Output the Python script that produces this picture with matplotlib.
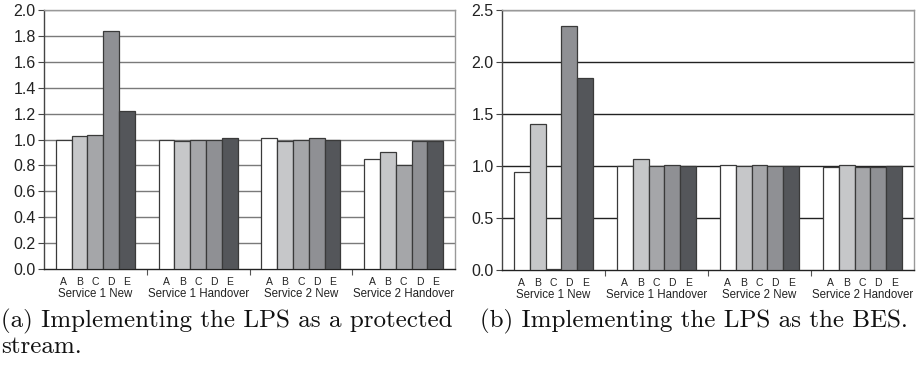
import numpy as np
import matplotlib
matplotlib.use("Agg")
import matplotlib.pyplot as plt
import matplotlib.transforms as mtransforms

groups = ["Service 1 New", "Service 1 Handover", "Service 2 New", "Service 2 Handover"]
variants = ["A", "B", "C", "D", "E"]
colors = ["#ffffff", "#c6c7c9", "#a5a6a9", "#8f9094", "#54565a"]

# (a) LPS as a protected stream, rows = A..E, columns = groups
vals_a = {
    "A": [1.00, 1.00, 1.01, 0.85],
    "B": [1.03, 0.99, 0.99, 0.90],
    "C": [1.035, 1.00, 1.00, 0.80],
    "D": [1.84, 1.00, 1.01, 0.99],
    "E": [1.22, 1.01, 1.00, 0.985],
}
# (b) LPS as the BES
vals_b = {
    "A": [0.94, 1.00, 1.01, 0.99],
    "B": [1.40, 1.07, 1.00, 1.01],
    "C": [0.01, 1.00, 1.01, 0.99],
    "D": [2.35, 1.01, 1.00, 0.99],
    "E": [1.85, 1.00, 1.00, 1.00],
}

W, H = 919, 367
fig = plt.figure(figsize=(W / 100, H / 100), dpi=100)


def draw(rect, vals, ymax, ystep, gridcolor):
    ax = fig.add_axes(rect)
    x = np.arange(len(groups))
    bw = 0.154
    centers = []
    for i, v in enumerate(variants):
        pos = x + (i - 2) * bw
        centers.extend(pos)
        ax.bar(pos, vals[v], width=bw, color=colors[i], edgecolor="#3a3a3a",
               linewidth=0.9, zorder=3)
    ax.set_xlim(-0.5, len(groups) - 0.5)
    ax.set_ylim(0, ymax)
    ticks = np.arange(0, ymax + 1e-9, ystep)
    ax.set_yticks(ticks)
    ax.set_yticklabels([f"{t:.1f}" for t in ticks], fontsize=11.5,
                       family="Liberation Sans", color="#222222")
    ax.tick_params(axis="y", length=4, width=0.8, color="#444444", pad=2)
    for t in ticks[1:]:
        ax.axhline(t, color=gridcolor, linewidth=1.0, zorder=1)

    ax.set_xticks(sorted(centers))
    ax.set_xticklabels(variants * len(groups), fontsize=7.5,
                       family="Liberation Sans", color="#222222")
    ax.tick_params(axis="x", which="major", length=0, pad=6)
    ax.set_xticks(np.arange(0.5, len(groups) - 0.5, 1.0), minor=True)
    ax.tick_params(axis="x", which="minor", length=4, width=0.8, color="#555555")

    trans = mtransforms.blended_transform_factory(ax.transData, ax.transAxes)
    for i, g in enumerate(groups):
        ax.text(x[i], -0.097, g, transform=trans, ha="center", va="center",
                fontsize=8.3, family="Liberation Sans", color="#222222")

    ax.spines["left"].set_color("#444444")
    ax.spines["bottom"].set_color("#222222")
    ax.spines["top"].set_color("#999999")
    ax.spines["right"].set_color("#999999")
    for s in ax.spines.values():
        s.set_linewidth(1.0)
    return ax


draw([44 / W, 98 / H, 411 / W, 259 / H], vals_a, 2.0, 0.2, "#7a7a7a")
draw([502 / W, 97 / H, 412 / W, 260 / H], vals_b, 2.5, 0.5, "#222222")

cap_kw = dict(fontsize=18, family="cmr10", color="#111111", va="baseline")
fig.text(1 / W, 1 - 327 / H, "(a) Implementing the LPS as a protected", **cap_kw)
fig.text(1 / W, 1 - 353 / H, "stream.", **cap_kw)
fig.text(480 / W, 1 - 327 / H, "(b) Implementing the LPS as the BES.", **cap_kw)

fig.savefig("out.png", dpi=100)
